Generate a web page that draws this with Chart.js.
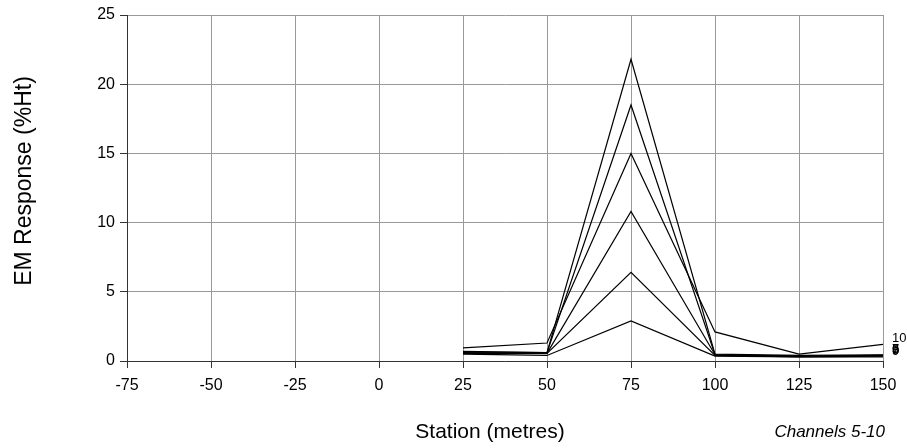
<!DOCTYPE html>
<html>
<head>
<meta charset="utf-8">
<script src="https://cdn.jsdelivr.net/npm/chart.js@4"></script>
<style>
html,body{margin:0;padding:0;background:#fff}
#wrap{width:907px;height:448px;position:relative}
</style>
</head>
<body>
<div id="wrap"><canvas id="c" width="907" height="448"></canvas></div>
<script>
// stations along the line (metres)
const stations=[25,50,75,100,125,150];
const channelNames=['5','6','7','8','9','10'];
// EM response per channel (%Ht)
const ch5=[0.7,0.6,21.8,0.5,0.4,0.45];
const ch6=[0.65,0.6,18.5,0.45,0.35,0.4];
const ch7=[0.6,0.55,10.8,0.45,0.35,0.4];
const ch8=[0.55,0.55,6.4,0.4,0.3,0.35];
const ch9=[0.5,0.4,2.9,0.35,0.3,0.3];
const ch10=[0.95,1.3,15.0,2.1,0.5,1.2];
const channels=[ch5,ch6,ch7,ch8,ch9,ch10];
const xMin=-75,xMax=150,xStep=25;
const yMin=0,yMax=25,yStep=5;

const FONT='"Liberation Sans", Arial, sans-serif';

const endLabels={
 id:'endLabels',
 afterDatasetsDraw(chart){
  const ctx=chart.ctx;
  ctx.save();
  ctx.font='13px '+FONT;
  ctx.fillStyle='#000';
  ctx.textBaseline='alphabetic';
  chart.data.datasets.forEach((ds,i)=>{
   const meta=chart.getDatasetMeta(i);
   const p=meta.data[meta.data.length-1];
   ctx.fillText(ds.label,p.x+9,p.y-2);
  });
  ctx.restore();
 }
};
const titles={
 id:'titles',
 afterDraw(chart){
  const ctx=chart.ctx;
  ctx.save();
  ctx.fillStyle='#000';
  ctx.textAlign='center';
  ctx.textBaseline='middle';
  ctx.font='21px '+FONT;
  ctx.fillText('Station (metres)',490,432);
  ctx.translate(25,181);
  ctx.rotate(-Math.PI/2);
  ctx.font='23px '+FONT;
  ctx.fillText('EM Response (%Ht)',0,0);
  ctx.restore();
  ctx.save();
  ctx.fillStyle='#000';
  ctx.textAlign='right';
  ctx.textBaseline='middle';
  ctx.font='italic 17px '+FONT;
  ctx.fillText('Channels 5-10',885,432);
  ctx.restore();
 }
};

new Chart(document.getElementById('c'),{
 type:'line',
 data:{datasets:channels.map((vals,i)=>({
  label:channelNames[i],
  data:stations.map((s,j)=>({x:s,y:vals[j]})),
  borderColor:'#000',borderWidth:1.2,pointRadius:0,tension:0,fill:false
 }))},
 options:{
  responsive:false,animation:false,
  layout:{padding:{left:0,right:24,top:15,bottom:0}},
  plugins:{legend:{display:false},tooltip:{enabled:false}},
  scales:{
   x:{type:'linear',min:xMin,max:xMax,
    ticks:{stepSize:xStep,color:'#000',font:{family:FONT,size:16},padding:8,maxRotation:0},
    grid:{color:'#999',tickColor:'#333',tickLength:7,lineWidth:1},
    border:{color:'#333',width:1},
    afterFit(s){s.height=87}
   },
   y:{min:yMin,max:yMax,
    ticks:{stepSize:yStep,color:'#000',font:{family:FONT,size:16},padding:5},
    grid:{color:'#999',tickColor:'#333',tickLength:7,lineWidth:1},
    border:{color:'#333',width:1},
    afterFit(s){s.width=127}
   }
  }
 },
 plugins:[endLabels,titles]
});
</script>
</body>
</html>
